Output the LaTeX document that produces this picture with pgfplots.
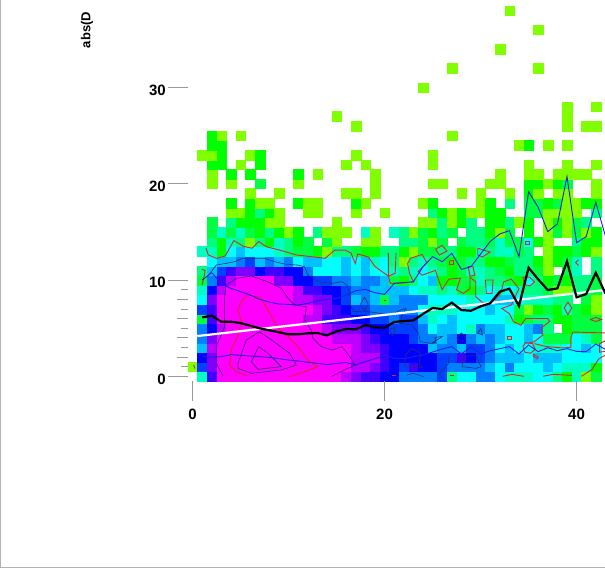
\documentclass[border=0pt]{standalone}
\usepackage{fontspec}
\setmainfont{Liberation Sans}
\usepackage{pgfplots}
\pgfplotsset{compat=1.18}
\definecolor{redc}{HTML}{D42A2A}
\definecolor{navyc}{HTML}{2B2B70}
\definecolor{bluec}{HTML}{1E1EE6}
\definecolor{tickc}{HTML}{999999}
\pgfplotsset{
  colormap={density}{rgb255=(128,255,0) rgb255=(0,255,0) rgb255=(0,255,64) rgb255=(0,255,128)
    rgb255=(0,255,192) rgb255=(0,255,255) rgb255=(0,192,255) rgb255=(0,128,255) rgb255=(0,64,255)
    rgb255=(0,0,255) rgb255=(64,0,255) rgb255=(128,0,255) rgb255=(192,0,255) rgb255=(255,0,255)},
  lred/.style={redc,line width=0.9pt,no marks},
  lnavy/.style={navyc,line width=0.6pt,no marks},
  lblue/.style={bluec,line width=0.9pt,no marks},
  frame/.style={at={(0,0)}, anchor=south west,
    scale only axis, width=605pt, height=569pt,
    xmin=-20.06, xmax=42.96, ymin=-20.01, ymax=39.08,
    axis lines=none},
}
\newcommand{\lab}{\bfseries\fontsize{15}{15}\selectfont}
\begin{document}
\begin{tikzpicture}
\path[use as bounding box] (0,0) rectangle (605pt,569pt);
% the marks of a scatter plot land above its axis's lines, so the cells get their own axis
\begin{axis}[frame, colormap name=density, point meta min=1, point meta max=14]
% binned counts, one line per row of the picture
\addplot[scatter, only marks, mark=square*, mark size=4.82pt, point meta=explicit,
  scatter/use mapped color={draw=mapped color,fill=mapped color}, mark options={line width=0.1pt}]
coordinates {
(1,0)[5] (2,0)[11] (3,0)[14] (4,0)[14] (5,0)[14] (6,0)[14] (7,0)[14] (8,0)[14] (9,0)[14] (10,0)[14] (11,0)[14] (12,0)[14] (13,0)[14] (14,0)[14] (15,0)[14] (16,0)[13] (17,0)[12] (18,0)[11] (19,0)[11] (20,0)[10] (21,0)[10] (22,0)[8] (23,0)[8] (24,0)[8] (25,0)[8] (26,0)[9] (27,0)[4] (28,0)[6] (29,0)[6] (30,0)[8] (31,0)[8] (32,0)[6] (33,0)[5] (34,0)[5] (35,0)[5] (36,0)[6] (37,0)[6] (38,0)[4] (39,0)[2] (40,0)[5] (41,0)[1] (42,0)[3] (43,0)[3]
(0,1)[1] (1,1)[9] (2,1)[12] (3,1)[14] (4,1)[14] (5,1)[14] (6,1)[14] (7,1)[14] (8,1)[14] (9,1)[14] (10,1)[14] (11,1)[14] (12,1)[14] (13,1)[14] (14,1)[14] (15,1)[14] (16,1)[14] (17,1)[13] (18,1)[13] (19,1)[12] (20,1)[11] (21,1)[10] (22,1)[9] (23,1)[11] (24,1)[10] (25,1)[10] (26,1)[9] (27,1)[8] (28,1)[8] (29,1)[8] (30,1)[8] (31,1)[7] (32,1)[6] (33,1)[8] (34,1)[6] (35,1)[6] (36,1)[6] (37,1)[7] (38,1)[6] (39,1)[5] (40,1)[5] (41,1)[5] (42,1)[2] (43,1)[4]
(1,2)[10] (2,2)[12] (3,2)[14] (4,2)[14] (5,2)[14] (6,2)[14] (7,2)[14] (8,2)[14] (9,2)[14] (10,2)[14] (11,2)[14] (12,2)[14] (13,2)[14] (14,2)[14] (15,2)[14] (16,2)[14] (17,2)[13] (18,2)[13] (19,2)[13] (20,2)[11] (21,2)[10] (22,2)[10] (23,2)[10] (24,2)[10] (25,2)[10] (26,2)[9] (27,2)[9] (28,2)[11] (29,2)[10] (30,2)[9] (31,2)[8] (32,2)[7] (33,2)[7] (34,2)[7] (35,2)[6] (36,2)[7] (37,2)[7] (38,2)[7] (39,2)[6] (40,2)[6] (41,2)[6] (42,2)[6] (43,2)[5]
(1,3)[7] (2,3)[13] (3,3)[14] (4,3)[14] (5,3)[14] (6,3)[14] (7,3)[14] (8,3)[14] (9,3)[14] (10,3)[14] (11,3)[14] (12,3)[14] (13,3)[14] (14,3)[14] (15,3)[14] (16,3)[14] (17,3)[13] (18,3)[12] (19,3)[12] (20,3)[11] (21,3)[10] (22,3)[10] (23,3)[10] (24,3)[10] (25,3)[7] (26,3)[8] (27,3)[8] (28,3)[7] (29,3)[9] (30,3)[9] (31,3)[8] (32,3)[6] (33,3)[7] (34,3)[6] (35,3)[6] (36,3)[5] (37,3)[5] (38,3)[5] (39,3)[6] (40,3)[6] (41,3)[7] (42,3)[6] (43,3)[4]
(1,4)[8] (2,4)[12] (3,4)[14] (4,4)[14] (5,4)[14] (6,4)[14] (7,4)[14] (8,4)[14] (9,4)[14] (10,4)[14] (11,4)[14] (12,4)[14] (13,4)[14] (14,4)[14] (15,4)[13] (16,4)[13] (17,4)[13] (18,4)[12] (19,4)[11] (20,4)[10] (21,4)[10] (22,4)[10] (23,4)[9] (24,4)[8] (25,4)[8] (26,4)[7] (27,4)[8] (28,4)[10] (29,4)[8] (30,4)[7] (31,4)[8] (32,4)[7] (33,4)[6] (34,4)[6] (35,4)[7] (36,4)[6] (37,4)[3] (38,4)[3] (39,4)[3] (40,4)[6] (41,4)[5] (42,4)[3] (43,4)[4]
(1,5)[8] (2,5)[10] (3,5)[13] (4,5)[14] (5,5)[14] (6,5)[14] (7,5)[14] (8,5)[14] (9,5)[14] (10,5)[14] (11,5)[14] (12,5)[14] (13,5)[14] (14,5)[13] (15,5)[12] (16,5)[12] (17,5)[12] (18,5)[11] (19,5)[10] (20,5)[10] (21,5)[9] (22,5)[9] (23,5)[9] (24,5)[8] (25,5)[6] (26,5)[7] (27,5)[7] (28,5)[6] (29,5)[5] (30,5)[8] (31,5)[7] (32,5)[7] (33,5)[6] (34,5)[6] (35,5)[7] (36,5)[8] (37,5)[4] (39,5)[2] (40,5)[3] (41,5)[3] (42,5)[3] (43,5)[2]
(1,6)[3] (2,6)[11] (3,6)[14] (4,6)[14] (5,6)[14] (6,6)[14] (7,6)[14] (8,6)[14] (9,6)[14] (10,6)[14] (11,6)[14] (12,6)[13] (13,6)[13] (14,6)[11] (15,6)[11] (16,6)[11] (17,6)[10] (18,6)[10] (19,6)[9] (20,6)[9] (21,6)[8] (22,6)[9] (23,6)[9] (24,6)[7] (25,6)[5] (26,6)[6] (27,6)[7] (28,6)[6] (29,6)[6] (30,6)[6] (31,6)[6] (32,6)[6] (33,6)[5] (34,6)[2] (35,6)[3] (36,6)[4] (37,6)[4] (38,6)[2] (39,6)[2] (40,6)[3] (41,6)[3] (42,6)[3] (43,6)[3]
(1,7)[9] (2,7)[11] (3,7)[14] (4,7)[14] (5,7)[14] (6,7)[14] (7,7)[14] (8,7)[14] (9,7)[14] (10,7)[14] (11,7)[14] (12,7)[14] (13,7)[13] (14,7)[12] (15,7)[11] (16,7)[10] (17,7)[9] (18,7)[9] (19,7)[8] (20,7)[8] (21,7)[8] (22,7)[8] (23,7)[8] (24,7)[6] (25,7)[5] (26,7)[5] (27,7)[5] (28,7)[6] (29,7)[6] (30,7)[6] (31,7)[7] (32,7)[6] (33,7)[6] (34,7)[3] (35,7)[1] (36,7)[2] (37,7)[3] (38,7)[2] (39,7)[5] (40,7)[3] (41,7)[2] (42,7)[1] (43,7)[3]
(1,8)[6] (2,8)[12] (3,8)[14] (4,8)[14] (5,8)[14] (6,8)[14] (7,8)[14] (8,8)[14] (9,8)[14] (10,8)[14] (11,8)[13] (12,8)[13] (13,8)[12] (14,8)[12] (15,8)[10] (16,8)[9] (17,8)[7] (18,8)[8] (19,8)[7] (20,8)[3] (21,8)[7] (22,8)[8] (23,8)[8] (24,8)[8] (25,8)[6] (26,8)[6] (27,8)[6] (28,8)[6] (29,8)[5] (30,8)[6] (31,8)[6] (32,8)[7] (33,8)[7] (34,8)[6] (35,8)[5] (36,8)[5] (37,8)[5] (38,8)[4] (39,8)[4] (41,8)[3] (42,8)[1] (43,8)[2]
(1,9)[5] (2,9)[10] (3,9)[13] (4,9)[14] (5,9)[14] (6,9)[14] (7,9)[14] (8,9)[14] (9,9)[14] (10,9)[14] (11,9)[13] (12,9)[11] (13,9)[11] (14,9)[10] (15,9)[10] (16,9)[9] (17,9)[8] (18,9)[8] (19,9)[7] (20,9)[7] (21,9)[7] (22,9)[7] (23,9)[6] (24,9)[5] (25,9)[5] (26,9)[4] (27,9)[5] (28,9)[3] (29,9)[2] (30,9)[4] (31,9)[6] (32,9)[5] (33,9)[6] (34,9)[5] (35,9)[4] (36,9)[4] (37,9)[3] (38,9)[1] (39,9)[1] (40,9)[4] (41,9)[4] (42,9)[3] (43,9)[2]
(1,10)[3] (2,10)[8] (3,10)[11] (4,10)[13] (5,10)[14] (6,10)[14] (7,10)[14] (8,10)[14] (9,10)[12] (10,10)[12] (11,10)[10] (12,10)[10] (13,10)[9] (14,10)[9] (15,10)[8] (16,10)[8] (17,10)[7] (18,10)[8] (19,10)[8] (20,10)[7] (21,10)[3] (22,10)[2] (23,10)[4] (24,10)[6] (25,10)[7] (26,10)[2] (27,10)[2] (28,10)[3] (29,10)[3] (30,10)[5] (31,10)[4] (32,10)[4] (33,10)[3] (34,10)[2] (35,10)[6] (36,10)[4] (37,10)[2] (38,10)[3] (39,10)[2] (40,10)[4] (41,10)[4] (42,10)[3] (43,10)[1]
(1,11)[4] (2,11)[7] (3,11)[9] (4,11)[11] (5,11)[12] (6,11)[12] (7,11)[10] (8,11)[11] (9,11)[11] (10,11)[10] (11,11)[10] (12,11)[8] (13,11)[6] (14,11)[6] (15,11)[6] (16,11)[7] (17,11)[6] (18,11)[7] (19,11)[6] (20,11)[6] (21,11)[5] (22,11)[4] (23,11)[5] (24,11)[6] (25,11)[5] (26,11)[4] (27,11)[2] (28,11)[3] (29,11)[5] (30,11)[5] (31,11)[4] (32,11)[3] (33,11)[2] (34,11)[4] (35,11)[4] (36,11)[3] (37,11)[1] (39,11)[3] (40,11)[5] (42,11)[4] (43,11)[1]
(2,12)[6] (3,12)[7] (4,12)[7] (5,12)[8] (6,12)[9] (7,12)[7] (8,12)[8] (9,12)[7] (10,12)[8] (11,12)[6] (12,12)[7] (13,12)[7] (14,12)[6] (15,12)[6] (16,12)[7] (17,12)[6] (18,12)[7] (19,12)[5] (20,12)[6] (21,12)[4] (22,12)[1] (23,12)[4] (24,12)[5] (25,12)[4] (26,12)[3] (27,12)[2] (28,12)[3] (29,12)[4] (30,12)[4] (31,12)[2] (32,12)[2] (33,12)[3] (34,12)[4] (35,12)[4] (36,12)[2] (37,12)[1] (38,12)[2] (39,12)[3] (40,12)[5] (42,12)[4] (43,12)[1]
(1,13)[5] (2,13)[5] (3,13)[2] (4,13)[6] (5,13)[7] (6,13)[6] (7,13)[6] (8,13)[6] (9,13)[5] (10,13)[4] (11,13)[3] (12,13)[3] (13,13)[2] (14,13)[1] (15,13)[4] (16,13)[4] (17,13)[3] (18,13)[2] (19,13)[2] (20,13)[4] (21,13)[4] (22,13)[2] (23,13)[1] (24,13)[3] (25,13)[3] (26,13)[4] (27,13)[4] (28,13)[2] (29,13)[2] (30,13)[5] (31,13)[4] (32,13)[5] (33,13)[5] (34,13)[3] (35,13)[4] (37,13)[1] (38,13)[2] (39,13)[2] (40,13)[3] (41,13)[2] (42,13)[1] (43,13)[1]
(2,14)[4] (3,14)[2] (4,14)[5] (5,14)[4] (6,14)[1] (7,14)[4] (8,14)[2] (9,14)[5] (10,14)[4] (11,14)[2] (12,14)[3] (14,14)[3] (15,14)[1] (18,14)[1] (19,14)[1] (22,14)[4] (23,14)[4] (24,14)[3] (25,14)[1] (26,14)[3] (28,14)[3] (29,14)[4] (30,14)[4] (31,14)[3] (32,14)[5] (33,14)[3] (34,14)[3] (35,14)[6] (36,14)[2] (37,14)[1] (40,14)[4] (41,14)[2] (42,14)[2] (43,14)[1]
(2,15)[3] (3,15)[5] (4,15)[3] (5,15)[5] (6,15)[3] (7,15)[2] (8,15)[4] (9,15)[2] (10,15)[1] (11,15)[2] (13,15)[4] (14,15)[1] (15,15)[1] (16,15)[1] (18,15)[5] (19,15)[1] (21,15)[5] (22,15)[4] (23,15)[1] (24,15)[3] (25,15)[2] (26,15)[4] (27,15)[3] (29,15)[4] (30,15)[4] (31,15)[2] (32,15)[1] (33,15)[3] (35,15)[2] (37,15)[1] (38,15)[3] (39,15)[1] (40,15)[3] (41,15)[1] (42,15)[2] (43,15)[1]
(2,16)[3] (4,16)[4] (5,16)[2] (6,16)[2] (7,16)[2] (8,16)[1] (9,16)[1] (15,16)[1] (24,16)[1] (25,16)[1] (26,16)[4] (27,16)[1] (28,16)[2] (29,16)[4] (31,16)[2] (32,16)[2] (33,16)[4] (34,16)[1] (35,16)[2] (37,16)[1] (38,16)[2] (39,16)[1] (40,16)[3] (41,16)[4] (43,16)[2]
(4,17)[1] (5,17)[1] (6,17)[2] (7,17)[4] (8,17)[2] (9,17)[1] (12,17)[1] (13,17)[1] (17,17)[1] (20,17)[1] (25,17)[4] (26,17)[2] (27,17)[1] (28,17)[2] (29,17)[1] (30,17)[1] (31,17)[2] (32,17)[2] (35,17)[3] (36,17)[3] (37,17)[1] (38,17)[1] (39,17)[1] (40,17)[1] (42,17)[4] (43,17)[1]
(4,18)[2] (6,18)[2] (7,18)[1] (8,18)[1] (11,18)[2] (12,18)[1] (13,18)[1] (17,18)[2] (18,18)[1] (24,18)[1] (25,18)[2] (30,18)[1] (31,18)[2] (33,18)[4] (35,18)[3] (36,18)[3] (37,18)[2] (38,18)[3] (39,18)[1] (40,18)[1] (41,18)[2] (42,18)[2] (43,18)[1]
(6,19)[1] (9,19)[1] (16,19)[1] (17,19)[1] (19,19)[1] (28,19)[1] (30,19)[1] (33,19)[1] (35,19)[2] (36,19)[1] (38,19)[1] (39,19)[1] (42,19)[1] (43,19)[1]
(2,20)[1] (4,20)[1] (7,20)[3] (11,20)[1] (19,20)[1] (25,20)[1] (26,20)[1] (31,20)[1] (32,20)[1] (35,20)[2] (36,20)[2] (37,20)[1] (38,20)[2] (39,20)[3] (42,20)[1] (43,20)[1]
(2,21)[1] (4,21)[2] (6,21)[2] (11,21)[2] (13,21)[1] (19,21)[1] (32,21)[1] (35,21)[1] (36,21)[1] (38,21)[1] (39,21)[1] (40,21)[1] (41,21)[1]
(2,22)[2] (3,22)[2] (5,22)[1] (7,22)[2] (16,22)[1] (18,22)[1] (25,22)[1] (35,22)[1] (39,22)[1] (42,22)[1] (43,22)[1]
(1,23)[1] (2,23)[1] (3,23)[2] (6,23)[1] (7,23)[2] (17,23)[1] (25,23)[1]
(2,24)[2] (3,24)[2] (34,24)[1] (35,24)[2] (37,24)[1] (39,24)[1]
(2,25)[2] (3,25)[1] (5,25)[1] (27,25)[1]
(17,26)[1] (39,26)[1] (41,26)[1] (42,26)[1]
(15,27)[1] (39,27)[1]
(39,28)[1] (42,28)[1]
(24,30)[1] (27,32)[1] (36,32)[1] (32,34)[1] (36,36)[1] (33,38)[1]
};
\end{axis}
\begin{axis}[frame]
% density contours, inner ones
\addplot[lred] coordinates {(5.7,0.03) (4.55,0.48) (3.86,1.17) (4.03,2.73) (4.73,4.29) (5.08,5.67) (4.73,6.88) (5.08,7.75) (5.77,8.44) (7.09,8.2) (7.85,6.88) (8.9,4.98) (9.94,4.12) (10.98,3.08) (12,1.69) (13,1) (11.67,0.48) (10.1,-0.04)};
\addplot[lred] coordinates {(1.4,13.3) (1.64,12.6) (2.5,12.25) (3.4,12.5) (4.3,14.1) (5.3,13.5) (6.2,13.3) (6.9,14) (7.7,13.45) (9.1,13.1) (10.8,12.6) (12.6,12.4) (13.8,12.25) (14.8,13.1) (15.9,13.1) (16.5,12.8) (16.95,11.7) (17.2,12.7) (18.3,12.4) (19,11.4) (20.4,10.4) (20.6,9.65) (23,9.8) (22.6,10.7) (22.4,11.7) (22.7,12.25) (23.9,12.66) (24.4,11.8) (23.5,10.9) (23.9,10.5) (25.3,11) (25.7,9.8) (26,9) (26.7,10.1) (27.9,10.2) (27.5,9) (28.2,8.6) (28.9,9.1) (28.9,10.3) (29.5,9.8) (29.5,8.27) (30.2,7.65) (31.1,7.6) (32.1,8.6) (32.4,9.8) (33.2,10.1) (34,9.1) (33.2,7.4) (32.2,7.05) (33,6.5) (33.4,5.7) (34.2,5.3) (34.7,6) (37,6) (37.2,5.7) (36.3,5) (36.5,4.3) (35.6,3.6) (35,3.45)};
\addplot[lred] coordinates {(43,4.5) (39.6,4.6) (39.4,4) (39.4,3.0) (38.5,2.95) (36.8,3.1) (35.6,3.4)};
\addplot[lred] coordinates {(34.4,3.1) (34.7,3.5) (35.4,3.4) (35.7,2.8) (35.2,2.4) (34.6,2.5) (34.4,3.1)};
\addplot[lred] coordinates {(35.5,2.3) (36,2) (35.9,1.8) (35.5,2.1) (35.5,2.3)};
\addplot[lred] coordinates {(20.4,12.8) (20.4,10.4) (21.1,10.7) (21.2,12.8)};
\addplot[lred] coordinates {(34.4,10.3) (35.1,10.3) (35.6,9.8) (35.2,9.4) (34.6,9.5) (34.4,10.3)};
\addplot[lred] coordinates {(30.5,10) (31.3,10) (31.2,8.6) (30.6,8.6) (30.5,10)};
\addplot[lred] coordinates {(29.7,13.3) (31,12.9) (30.2,12.4) (29.7,12.6) (29.7,13.3)};
\addplot[lred] coordinates {(25.3,13.2) (26,13.6) (26.5,13) (25.7,12.6) (25.3,13.2)};
\addplot[lred] coordinates {(26.8,12) (27.2,12) (27.2,11.6) (26.8,11.6) (26.8,12)};
\addplot[lred] coordinates {(28.7,11.4) (29.2,11.4) (29.4,10.5) (28.9,10.4) (28.7,11.4)};
\addplot[lred] coordinates {(38.7,7.1) (39.1,7.7) (39.5,7.1) (39.1,6.4) (38.7,7.1)};
\addplot[lred] coordinates {(41.4,5.9) (42,6.1) (42.6,5.9) (42,5.7) (41.4,5.9)};
\addplot[lred] coordinates {(40.2,12.1) (39.9,11.8) (40.2,11.5)};
\addplot[lred] coordinates {(34.7,14) (35.1,14) (35.1,13.7) (34.7,13.7) (34.7,14)};
\addplot[lred] coordinates {(32.8,4.1) (33.2,4.1) (33.2,3.8) (32.8,3.8) (32.8,4.1)};
\addplot[lred] coordinates {(43,2.6) (42.4,2.5) (42.4,3.4) (43,3.7)};
\addplot[lred] coordinates {(43,2.2) (42.3,1.8) (41.6,0.7) (40.5,0)};
\addplot[lred] coordinates {(32.3,0) (33.3,0.2) (34.5,0)};
\addplot[lred] coordinates {(36.5,0) (37.5,0.2) (39.5,0.1)};
\addplot[lred] coordinates {(20.8,0.1) (21.2,0.1)};
\addplot[lred] coordinates {(26.8,0.1) (27.2,0.1)};
\addplot[lred] coordinates {(19.9,7.9) (20.1,7.9)};
\addplot[lred] coordinates {(1,11.1) (1.3,11) (1.25,10.6) (1,9.5)};
\addplot[lred] coordinates {(0.1,1.2) (0.25,0.8)};
% outer density contours
\addplot[lnavy] coordinates {(1.53,10.34) (2.47,11.55) (3.5,11.73) (4.38,11.9) (5.25,12.25) (6.46,12.25) (7.5,12.25) (8.55,11.9) (9.59,11.66) (10.98,11.55) (11.67,11.38) (12,10.52) (13.2,9.8) (14.52,9.65) (15.56,9.83) (16.08,9.48) (16.43,8.44) (16.43,7.4) (16.78,6.71) (17.82,6.78) (19.03,6.61) (20.6,6.36) (21.64,6.88) (22.23,7.06) (21.8,6.36) (21.64,5.5) (22.85,5.33) (23.55,4.46) (23.72,3.6) (24.9,3.42) (25.98,4.12) (25.28,4.05) (25.28,3.5) (24.9,3.42)};
\addplot[lnavy] coordinates {(3.17,0.03) (2.47,1.35) (2.47,3.08) (3.34,5.15) (3.34,8.27) (3.51,9.48) (4.55,10.17) (6.12,10.41) (7.33,10) (8.2,9.65) (9.24,9.13) (9.94,8.1) (10.63,7.4) (11.85,7.23) (11.67,5.85) (12.37,4.81) (12.54,3.94) (13.41,3.08) (14.52,2.73) (15.56,3.08) (16.26,2.21) (16.95,1.17) (15.9,0.7) (14.52,0)};
\addplot[lnavy] coordinates {(4.73,1.35) (5.6,3.77) (6.98,4.63) (8.72,3.42) (10.11,2.39) (10.8,1.17) (9.24,0.66) (6.12,0.31) (4.73,0.83) (4.73,1.35)};
\addplot[lnavy] coordinates {(6.12,1.52) (6.88,3.08) (7.85,2.39) (9.24,1) (6.81,0.72) (6.12,1.52)};
\addplot[lnavy] coordinates {(17.5,7.5) (17.9,8.2) (18.3,7.5) (17.9,6.8) (17.5,7.5)};
\addplot[lnavy] coordinates {(20.6,4.9) (21.1,5.1) (21,4.5) (20.8,4.2) (20.6,4.9)};
\addplot[lnavy] coordinates {(27.5,4) (28,4.5) (28.5,4) (28,3.5) (27.5,4)};
\addplot[lnavy] coordinates {(22.85,2.9) (23.72,2.39) (23.62,1.17) (23.96,0.93) (22.09,1.07) (22.16,2.21) (22.85,2.9)};
\addplot[lnavy] coordinates {(22.33,0.14) (23,0.31) (24.07,-0.04)};
\addplot[lnavy] coordinates {(26.67,2.04) (26.67,1.35) (25.63,0.14)};
\addplot[lnavy] coordinates {(29.52,2.21) (28.2,2.04) (28.06,1) (29.52,0.83) (30.04,1) (29.52,2.21)};
\addplot[lnavy] coordinates {(30.04,4.98) (29.7,4.46) (30.2,4.3) (30.04,4.98)};
% upper and lower quartile
\addplot[lblue] coordinates {(1,10) (2,10.76) (3,9.65) (4,9.13) (5,8.79) (6,8.44) (7,7.99) (8,7.71) (9,7.5) (10,7.47) (11,7.4) (12,7.57) (13,7.85) (14,7.99) (15,8.1) (16,8.44) (17,8.89) (18,9.03) (19,8.68) (20,8.51) (21,9.65) (22,9.72) (23,9.82) (24,11.38) (25,12.42) (26,11.9) (27,12.77) (28,11.1) (29,11.38) (30,12.7) (31,14) (32,14.78) (33,15.13) (34,12.42) (35,19.18) (36,17.55) (37,15.03) (38,15.82) (39,20.74) (40,13.88) (41,14.51) (42,18.07) (43,14.58)};
\addplot[lblue] coordinates {(1,2.04) (2,1.97) (3,2.04) (4,2.25) (5,2.18) (6,2.11) (7,2.04) (8,1.97) (9,1.83) (10,1.69) (11,1.59) (12,1.45) (13,1.35) (14,1.21) (15,1.35) (16,1.42) (17,1.17) (18,1.52) (19,1.83) (20,2.21) (21,1.87) (22,1.83) (23,2.04) (24,2.21) (25,2.52) (26,2.83) (27,3.08) (28,2.32) (29,3.08) (30,2.32) (31,2.66) (32,2.87) (33,3.08) (34,2.32) (35,3.25) (36,2.56) (37,2.97) (38,2.66) (39,2.87) (40,2.59) (41,2.56) (42,3.35) (43,2.8)};
% regression line and mean
\addplot[white, line width=2.2pt, no marks] coordinates {(0.49,4.18) (42.96,8.96)};
\addplot[black, line width=2.2pt, no marks] coordinates {(1,6.12) (2,6.3) (3,5.67) (4,5.67) (5,5.53) (6,5.26) (7,4.98) (8,4.77) (9,4.57) (10,4.36) (11,4.36) (12,4.46) (13,4.5) (14,4.25) (15,4.67) (16,4.91) (17,4.88) (18,5.33) (19,5.08) (20,5.05) (21,5.64) (22,5.74) (23,5.81) (24,6.47) (25,7.09) (26,6.99) (27,7.65) (28,6.88) (29,6.81) (30,7.26) (31,7.58) (32,8.79) (33,9.1) (34,7.3) (35,11.28) (36,10.07) (37,8.96) (38,9.13) (39,11.94) (40,8.2) (41,8.54) (42,10.76) (43,8.6)};
% ticks sit off the data, so they are drawn by hand
\pgfplotsinvokeforeach{0,10,20,30}{
  \draw[tickc, line width=0.7pt] (axis cs:-2.56,#1) -- (axis cs:-0.48,#1);
  \node[anchor=east, font=\lab, inner sep=0pt] at (axis cs:-2.77,#1-0.28) {#1};
}
\pgfplotsinvokeforeach{0,10,2,4,6,8}{
  \draw[tickc, line width=0.7pt] (axis cs:-1.62,#1) -- (axis cs:-0.48,#1);
}
\pgfplotsinvokeforeach{1,3,5,7,9}{
  \draw[tickc, line width=0.7pt] (axis cs:-1.2,#1) -- (axis cs:-0.48,#1);
}
\pgfplotsinvokeforeach{0,20,40}{
  \draw[tickc, line width=0.7pt] (axis cs:#1,-0.49) -- (axis cs:#1,-2.56);
  \node[font=\lab, inner sep=0pt] at (axis cs:#1,-3.91) {#1};
}
\node[rotate=90, font=\bfseries\fontsize{13}{13}\selectfont, inner sep=0pt] at (axis cs:-11,35.96) {abs(D};
\end{axis}
\draw[gray!60, line width=1pt] (0.5pt,569pt) -- (0.5pt,1.5pt) -- (605pt,1.5pt);
\end{tikzpicture}
\end{document}
